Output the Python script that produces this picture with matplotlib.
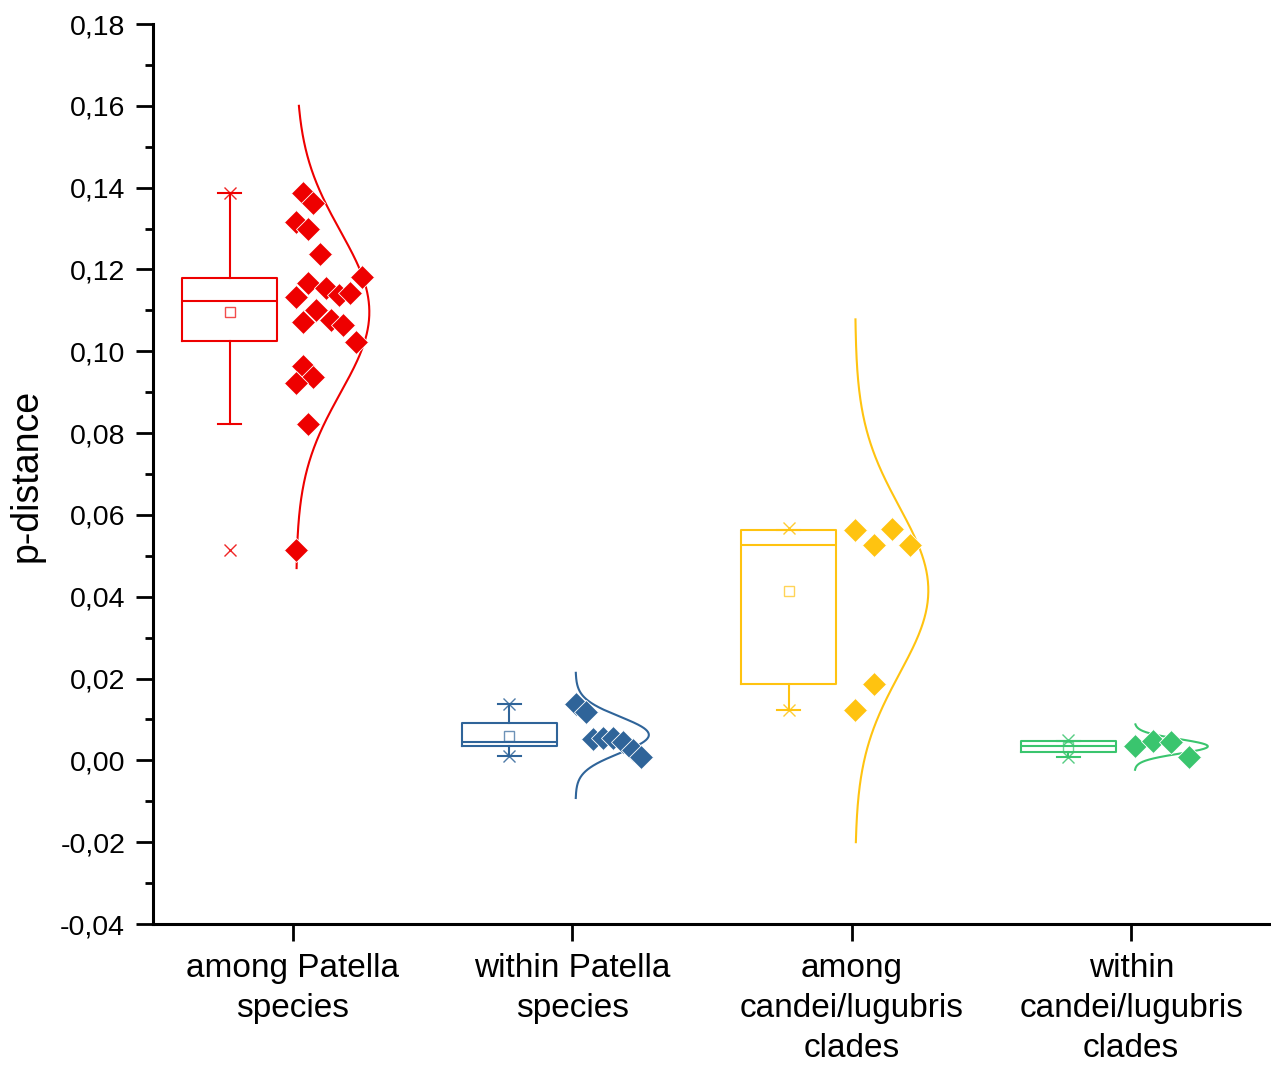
import numpy as np
import matplotlib.pyplot as plt
from matplotlib.ticker import MultipleLocator, FuncFormatter

plt.rcParams['font.family'] = ['Liberation Sans', 'DejaVu Sans']

# groups on the x axis
categories = ['among Patella\nspecies', 'within Patella\nspecies',
              'among\ncandei/lugubris\nclades', 'within\ncandei/lugubris\nclades']
colors = ['#EE0000', '#2F6499', '#FFC310', '#3AC56E']

# p-distance values (read from the diamonds) and their horizontal jitter
among_patella = [0.1386, 0.1362, 0.1317, 0.1298, 0.1238, 0.1181, 0.1166, 0.1154, 0.1138, 0.1142, 0.1133,
                 0.1072, 0.1101, 0.1077, 0.1064, 0.1023, 0.0964, 0.0938, 0.0922, 0.0822, 0.0514]
among_patella_jit = [0.035, 0.074, 0.013, 0.055, 0.098, 0.248, 0.055, 0.118, 0.166, 0.205, 0.013,
                     0.035, 0.082, 0.136, 0.178, 0.226, 0.035, 0.074, 0.013, 0.055, 0.013]
within_patella = [0.0139, 0.0119, 0.0052, 0.0054, 0.0054, 0.0046, 0.0025, 0.0009]
within_patella_jit = [0.014, 0.050, 0.074, 0.110, 0.146, 0.182, 0.218, 0.247]
among_clades = [0.0564, 0.0526, 0.0566, 0.0527, 0.0187, 0.0123]
among_clades_jit = [0.011, 0.079, 0.143, 0.208, 0.079, 0.011]
within_clades = [0.0034, 0.0048, 0.0046, 0.0009]
within_clades_jit = [0.012, 0.078, 0.143, 0.205]

groups = [among_patella, within_patella, among_clades, within_clades]
jitters = [among_patella_jit, within_patella_jit, among_clades_jit, within_clades_jit]

# box statistics as drawn
q1 = [0.1025, 0.0034, 0.0187, 0.0020]
med = [0.1123, 0.0046, 0.0526, 0.0036]
q3 = [0.1180, 0.0091, 0.0562, 0.0047]
whis_lo = [0.0822, 0.0011, 0.0123, 0.0009]
whis_hi = [0.1386, 0.0138, 0.0562, 0.0047]
means = [0.1096, 0.0060, 0.0414, 0.0032]
v_min = [0.0514, 0.0011, 0.0123, 0.0009]
v_max = [0.1386, 0.0138, 0.0567, 0.0050]

# extent of the normal curves
curve_lo = [0.047, -0.0092, -0.020, -0.0023]
curve_hi = [0.160, 0.0214, 0.1078, 0.0088]

fig = plt.figure(figsize=(12.71, 10.67), dpi=100)
ax = fig.add_axes([153 / 1271, 1 - 924 / 1067, 1 - 153 / 1271, 900 / 1067])

for i, c in enumerate(colors):
    pos = i + 1
    bpos = pos - 0.226
    stats = [dict(q1=q1[i], med=med[i], q3=q3[i], whislo=whis_lo[i], whishi=whis_hi[i],
                  mean=means[i], fliers=[])]
    ax.bxp(stats, positions=[bpos], widths=0.34, capwidths=0.082, showmeans=True,
           boxprops=dict(color=c, lw=1.5), medianprops=dict(color=c, lw=1.5),
           whiskerprops=dict(color=c, lw=1.5), capprops=dict(color=c, lw=1.5),
           meanprops=dict(marker='s', markerfacecolor='none', markeredgecolor=c,
                          markersize=7, markeredgewidth=1, alpha=0.7),
           manage_ticks=False)
    ax.plot([bpos, bpos], [v_min[i], v_max[i]], 'x', color=c, ms=9, mew=1, alpha=0.85)

    # normal curve from the group's mean and sd
    vals = np.array(groups[i])
    mu, sd = vals.mean(), vals.std(ddof=1)
    yy = np.linspace(curve_lo[i], curve_hi[i], 400)
    xx = pos + 0.012 + 0.262 * np.exp(-0.5 * ((yy - mu) / sd) ** 2)
    ax.plot(xx, yy, color=c, lw=1.5, zorder=3)

    ax.plot(pos + np.array(jitters[i]), vals, 'D', ms=12.5, color=c,
            mec='white', mew=0.6, zorder=4, linestyle='none')

ax.set_xlim(0.5, 4.5)
ax.set_ylim(-0.04, 0.18)
ax.set_xticks([1, 2, 3, 4])
ax.set_xticklabels(categories, fontsize=24, linespacing=1.38)
ax.yaxis.set_major_locator(MultipleLocator(0.02))
ax.yaxis.set_minor_locator(MultipleLocator(0.01))


def fmt(v, p):
    if abs(v) < 1e-9:
        v = 0.0
    return f"{v:.2f}".replace('.', ',')


ax.yaxis.set_major_formatter(FuncFormatter(fmt))
ax.tick_params(axis='y', which='major', length=12, width=2, labelsize=20.5, pad=8)
ax.tick_params(axis='y', which='minor', length=6, width=2)
ax.tick_params(axis='x', which='major', length=12, width=2, pad=9)

for s in ['top', 'right']:
    ax.spines[s].set_visible(False)
for s in ['left', 'bottom']:
    ax.spines[s].set_linewidth(2.2)

fig.text(27 / 1271, 1 - 475 / 1067, 'p-distance', rotation=90, fontsize=27,
         ha='center', va='center')

plt.savefig('out.png', dpi=100)
